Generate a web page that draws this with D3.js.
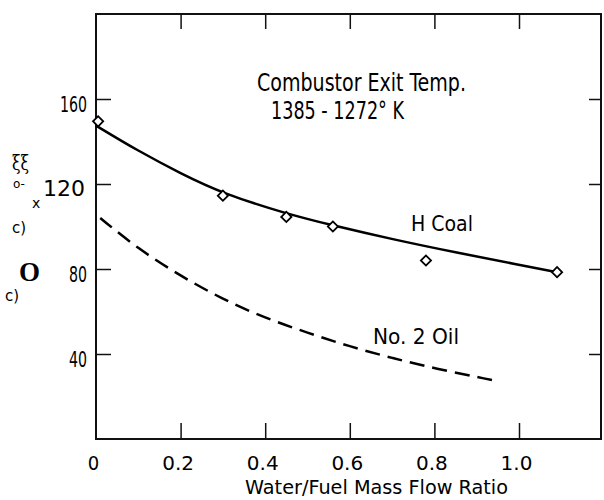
<!DOCTYPE html>
<html>
<head>
<meta charset="utf-8">
<script src="https://cdn.jsdelivr.net/npm/d3@7"></script>
<style>
  body { margin: 0; background: #fff; }
  svg { display: block; }
</style>
</head>
<body>
<script>
// datos
const hCoalX = [0.005, 0.30, 0.45, 0.56, 0.78, 1.09];
const hCoalY = [149.5, 114.5, 104.5, 100, 84, 78.5];

// curva ajustada (linea continua)
const hCoalFitX = [0, 0.1, 0.2, 0.3, 0.45, 0.56, 0.7, 0.85, 1.0, 1.09];
const hCoalFitY = [147.5, 135.5, 125, 115.5, 106, 100.5, 94, 87.8, 82, 78.5];

// No. 2 Oil (linea discontinua)
const oilX = [0.01, 0.1, 0.2, 0.3, 0.4, 0.5, 0.6, 0.7, 0.8, 0.94];
const oilY = [104, 89.4, 76.7, 65.7, 56.9, 50, 43.5, 38.1, 33.2, 27.6];

const xTicks = [0, 0.2, 0.4, 0.6, 0.8, 1.0];
const xTickLabels = ['0', '0.2', '0.4', '0.6', '0.8', '1.0'];
const yTicks = [40, 80, 120, 160];
const yTickLabels = ['40', '80', '120', '160'];

const W = 604;
const H = 500;
const mLeft = 96, mRight = 601, mTop = 14, mBottom = 439;

const narrow = "'Liberation Sans Narrow', 'DejaVu Sans Condensed', 'Liberation Sans', sans-serif";
const wide = "'DejaVu Sans', Verdana, sans-serif";

const svg = d3.select('body').append('svg')
  .attr('width', W)
  .attr('height', H);

const x = d3.scaleLinear().domain([0, 1.2]).range([mLeft, mLeft + 1.2 * 423]);
const y = d3.scaleLinear().domain([0, 200]).range([mBottom, mTop]);

// marco
svg.append('rect')
  .attr('x', mLeft).attr('y', mTop)
  .attr('width', mRight - mLeft).attr('height', mBottom - mTop)
  .attr('fill', 'none').attr('stroke', '#111').attr('stroke-width', 2);

// eje inferior
const xAxis = svg.append('g')
  .attr('transform', `translate(0,${mBottom})`)
  .call(d3.axisBottom(x).tickValues(xTicks)
    .tickSizeInner(-16).tickSizeOuter(0).tickPadding(17)
    .tickFormat((d, i) => xTickLabels[i]));
xAxis.select('.domain').remove();
xAxis.selectAll('line').attr('stroke', '#111').attr('stroke-width', 1.5);
xAxis.selectAll('text')
  .attr('fill', '#000')
  .style('font-family', wide)
  .style('font-size', '20px')
  .attr('dx', -3);
xAxis.selectAll('.tick').filter(d => d === 0).select('line').remove();
xAxis.selectAll('.tick').filter(d => d === 0).select('text')
  .style('font-family', narrow).attr('dx', -3);

// eje superior (solo marcas)
const xTop = svg.append('g')
  .attr('transform', `translate(0,${mTop})`)
  .call(d3.axisTop(x).tickValues(xTicks.slice(1))
    .tickSizeInner(-15).tickSizeOuter(0).tickFormat(''));
xTop.select('.domain').remove();
xTop.selectAll('line').attr('stroke', '#111').attr('stroke-width', 1.5);

// eje izquierdo
const yAxis = svg.append('g')
  .attr('transform', `translate(${mLeft},0)`)
  .call(d3.axisLeft(y).tickValues(yTicks)
    .tickSizeInner(-15).tickSizeOuter(0).tickPadding(9)
    .tickFormat((d, i) => yTickLabels[i]));
yAxis.select('.domain').remove();
yAxis.selectAll('line').attr('stroke', '#111').attr('stroke-width', 1.5);
yAxis.selectAll('text')
  .attr('fill', '#000')
  .attr('dy', 12)
  .style('font-family', narrow)
  .style('font-size', '21px')
  .attr('textLength', d => d === 160 ? 27 : 18)
  .attr('lengthAdjust', 'spacingAndGlyphs');
yAxis.selectAll('.tick').filter(d => d === 120).select('text')
  .attr('textLength', null)
  .attr('dy', 11)
  .attr('x', -11)
  .style('font-family', wide)
  .style('font-size', '22px');

// eje derecho (solo marcas)
const yRight = svg.append('g')
  .attr('transform', `translate(${mRight},0)`)
  .call(d3.axisRight(y).tickValues(yTicks)
    .tickSizeInner(-12).tickSizeOuter(0).tickFormat(''));
yRight.select('.domain').remove();
yRight.selectAll('line').attr('stroke', '#111').attr('stroke-width', 1.5);

// curvas suaves
const line = d3.line()
  .x(d => x(d[0]))
  .y(d => y(d[1]))
  .curve(d3.curveBasis);

svg.append('path')
  .datum(hCoalFitX.map((v, i) => [v, hCoalFitY[i]]))
  .attr('d', line)
  .attr('fill', 'none')
  .attr('stroke', '#000')
  .attr('stroke-width', 2.5);

svg.append('path')
  .datum(oilX.map((v, i) => [v, oilY[i]]))
  .attr('d', line)
  .attr('fill', 'none')
  .attr('stroke', '#000')
  .attr('stroke-width', 2.5)
  .attr('stroke-dasharray', '15,8');

// puntos (rombos)
const diamond = d3.symbol().type(d3.symbolSquare).size(52);
svg.selectAll('.pt')
  .data(hCoalX.map((v, i) => [v, hCoalY[i]]))
  .enter()
  .append('path')
  .attr('class', 'pt')
  .attr('d', diamond)
  .attr('transform', d => `translate(${x(d[0])},${y(d[1])}) rotate(45)`)
  .attr('fill', '#fff')
  .attr('stroke', '#000')
  .attr('stroke-width', 1.8);

// textos
function label(txt, tx, ty, size, len, family) {
  const t = svg.append('text')
    .attr('x', tx).attr('y', ty)
    .style('font-family', family || narrow)
    .style('font-size', size + 'px')
    .attr('fill', '#000')
    .text(txt);
  if (len) t.attr('textLength', len).attr('lengthAdjust', 'spacingAndGlyphs');
  return t;
}

label('Combustor Exit Temp.', 257, 91, 24, 209);
label('1385 - 1272° K', 271, 119, 24, 133);
label('H Coal', 411, 231, 22, 62);
label('No.  2 Oil', 373, 344, 22, 86);

// titulo eje x
label('Water/Fuel Mass Flow Ratio', 245, 494, 20, 263, wide);

// restos de la etiqueta del eje y
label('ξξ', 12, 170, 20, 17, "'DejaVu Serif', serif");
label('o-', 13, 188, 12, null, wide);
label('x', 32, 208, 14, null, wide);
label('c)', 12, 233, 15, null, wide);
label('O', 19, 281, 27, null, "'Liberation Serif', serif").style('font-weight', 'bold');
label('c)', 5, 301, 15, null, wide);
</script>
</body>
</html>
